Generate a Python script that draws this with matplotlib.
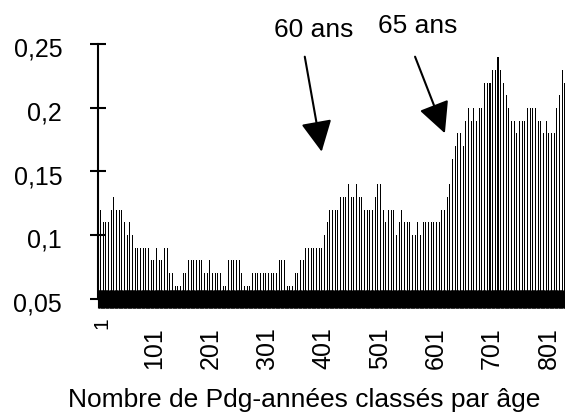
import numpy as np
import matplotlib
matplotlib.use("Agg")
import matplotlib.pyplot as plt
from matplotlib.ticker import FixedLocator
from matplotlib.transforms import ScaledTranslation

plt.rcParams['font.family'] = ['Liberation Sans', 'DejaVu Sans']

# data : part des Pdg par tranche (une barre visible par groupe)
n_cat = 830
vals = [
    0.12, 0.11, 0.11, 0.11, 0.12, 0.13, 0.12, 0.12, 0.12, 0.11, 0.10, 0.11, 0.10, 0.09,
    0.09, 0.09, 0.09, 0.09, 0.09, 0.08, 0.08, 0.09, 0.08, 0.08, 0.09, 0.09, 0.07, 0.07,
    0.06, 0.06, 0.06, 0.07, 0.07, 0.08, 0.08, 0.08, 0.08, 0.08, 0.08, 0.07, 0.07, 0.08,
    0.07, 0.07, 0.07, 0.07, 0.06, 0.06, 0.08, 0.08, 0.08, 0.08, 0.08, 0.07, 0.06, 0.06,
    0.06, 0.07,
    0.07, 0.07, 0.07, 0.07, 0.07, 0.07, 0.07, 0.07, 0.07, 0.08, 0.08, 0.08, 0.06, 0.06,
    0.06, 0.07, 0.07, 0.08, 0.08, 0.09, 0.09, 0.09, 0.09, 0.09, 0.09, 0.09, 0.10, 0.11,
    0.12, 0.12,
    0.12, 0.12, 0.13, 0.13, 0.13, 0.14, 0.13, 0.13, 0.14, 0.13, 0.13, 0.12, 0.12, 0.12,
    0.12, 0.13, 0.14, 0.14, 0.12, 0.11, 0.12, 0.12, 0.12, 0.10, 0.11, 0.12, 0.11, 0.11,
    0.11, 0.10,
    0.10, 0.11, 0.10, 0.11, 0.11, 0.11, 0.11, 0.11, 0.11, 0.11, 0.12, 0.12, 0.13, 0.14,
    0.16, 0.17, 0.18, 0.18, 0.17, 0.19, 0.20, 0.19, 0.20, 0.19, 0.20, 0.20, 0.22, 0.22,
    0.22, 0.23,
    0.23, 0.24, 0.23, 0.22, 0.21, 0.20, 0.19, 0.19, 0.18, 0.19, 0.19, 0.19, 0.20, 0.20,
    0.20, 0.20, 0.19, 0.19, 0.18, 0.19, 0.18, 0.18, 0.18, 0.20, 0.21, 0.23, 0.22,
]
xtick_vals = [1, 101, 201, 301, 401, 501, 601, 701, 801]
ytick_vals = [0.05, 0.1, 0.15, 0.2, 0.25]
ytick_labels = ['0,05', '0,1', '0,15', '0,2', '0,25']
xlabel = 'Nombre de Pdg-années classés par âge'
notes = ['60 ans', '65 ans']
note_xy = [(383, 0.2561), (568, 0.2588)]
arrow_from = [(368, 0.2404), (564, 0.2404)]
arrow_to = [(398, 0.1656), (617, 0.1801)]

group = n_cat / len(vals)
pos = group * (np.arange(len(vals)) + 1)

fig = plt.figure(figsize=(5.65, 4.19), dpi=100)
ax = fig.add_axes([98 / 565, 120.5 / 419, 467 / 565, 254 / 419])

ax.bar(pos, vals, width=1.8, color='black', linewidth=0)

ax.set_xlim(0.5, n_cat + 0.5)
ax.set_ylim(0.05, 0.25)

for s in ['top', 'right']:
    ax.spines[s].set_visible(False)
ax.spines['left'].set_linewidth(1.5)
ax.spines['bottom'].set_linewidth(1.0)

ax.set_xticks(xtick_vals, [str(v) for v in xtick_vals], rotation=90, fontsize=18)
ax.xaxis.set_minor_locator(FixedLocator(range(1, n_cat + 1)))
ax.tick_params(axis='x', which='both', direction='inout', length=13, width=0.8, pad=14)
ax.set_yticks(ytick_vals, ytick_labels, fontsize=18)
ax.tick_params(axis='y', direction='inout', length=11.5, width=1.5, pad=20)

# petit décalage vertical des étiquettes de l'axe y
off = ScaledTranslation(0, -3 / 100, fig.dpi_scale_trans)
for lab in ax.get_yticklabels():
    lab.set_transform(lab.get_transform() + off)

# le "1" est plus petit et plus haut sur l'original
first = ax.get_xticklabels()[0]
first.set_fontsize(15)
first.set_transform(first.get_transform() + ScaledTranslation(0.04, 0.10, fig.dpi_scale_trans))

for txt, (tx, ty) in zip(notes, note_xy):
    ax.text(tx, ty, txt, ha='center', va='baseline', fontsize=19)
for (x0, y0), (x1, y1) in zip(arrow_from, arrow_to):
    ax.annotate('', xy=(x1, y1), xytext=(x0, y0),
                arrowprops=dict(arrowstyle='-|>', mutation_scale=48, lw=1.5,
                                color='black', shrinkA=0, shrinkB=0))

fig.text(304 / 565, 12 / 419, xlabel, ha='center', va='baseline', fontsize=19)

plt.savefig('out.png', dpi=100)
